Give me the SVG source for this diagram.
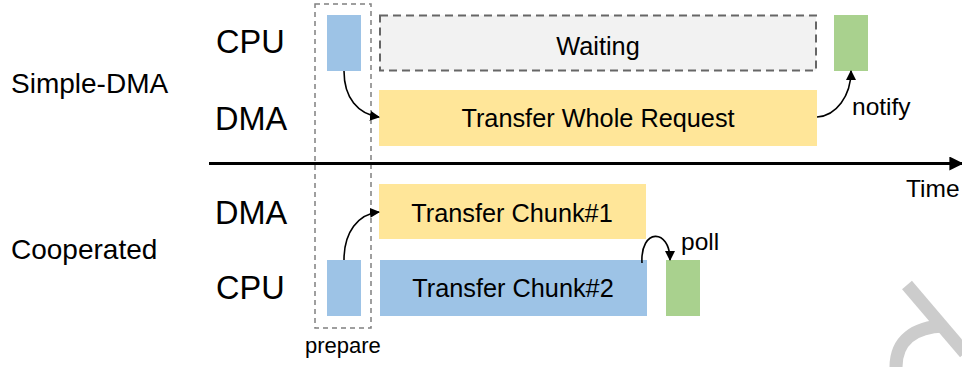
<svg xmlns="http://www.w3.org/2000/svg" width="962" height="367" viewBox="0 0 962 367">
<style>
text{font-family:"Liberation Sans",Arial,sans-serif;fill:#000}
.lbl{font-size:32.5px}
.grp{font-size:28px}
.box{font-size:25.3px}
.sm{font-size:24.5px}
.blue{fill:#9dc3e6}
.yel{fill:#ffe699}
.grn{fill:#a9d18e}
.conn{fill:none;stroke:#000;stroke-width:1.6}
</style>
<defs>
<marker id="ah" viewBox="0 0 10 10" refX="9" refY="5" markerWidth="10" markerHeight="10" markerUnits="userSpaceOnUse" orient="auto">
<path d="M0,0 L10,5 L0,10 z" fill="#000"/>
</marker>
<marker id="big" viewBox="0 0 10 10" refX="9" refY="5" markerWidth="14" markerHeight="14" markerUnits="userSpaceOnUse" orient="auto">
<path d="M0,0 L10,5 L0,10 z" fill="#000"/>
</marker>
</defs>
<rect width="962" height="367" fill="#fff"/>
<g id="watermark" fill="none" stroke="#cccccc" stroke-width="13">
<line x1="907" y1="285" x2="965" y2="353"/>
<path d="M896,367 C896,340 915,327 944,326"/>
</g>
<g id="labels">
<text class="grp" x="11" y="93">Simple-DMA</text>
<text class="grp" x="11" y="259">Cooperated</text>
<text class="lbl" x="216" y="53">CPU</text>
<text class="lbl" x="215" y="130">DMA</text>
<text class="lbl" x="215" y="224">DMA</text>
<text class="lbl" x="216" y="299">CPU</text>
</g>
<g id="prepare">
<rect x="315" y="4" width="56" height="324" fill="none" stroke="#808080" stroke-width="1.5" stroke-dasharray="5,4"/>
<text x="305" y="353" style="font-size:22px">prepare</text>
</g>
<g id="cpu-prep-1"><rect class="blue" x="327" y="15" width="34" height="56"/></g>
<g id="waiting">
<rect x="380" y="15.5" width="436" height="55" fill="#f2f2f2" stroke="#666" stroke-width="2" stroke-dasharray="8,5"/>
<text class="box" x="598" y="55" text-anchor="middle">Waiting</text>
</g>
<g id="cpu-done-1"><rect class="grn" x="834" y="15" width="34" height="56"/></g>
<g id="transfer-whole">
<rect class="yel" x="379" y="90" width="438" height="56"/>
<text class="box" x="598" y="127" text-anchor="middle">Transfer Whole Request</text>
</g>
<g id="chunk1">
<rect class="yel" x="379" y="184" width="267" height="55"/>
<text class="box" x="512" y="222" text-anchor="middle">Transfer Chunk#1</text>
</g>
<g id="cpu-prep-2"><rect class="blue" x="327" y="260" width="34" height="56"/></g>
<g id="chunk2">
<rect class="blue" x="380" y="260" width="267" height="56"/>
<text class="box" x="513" y="297" text-anchor="middle">Transfer Chunk#2</text>
</g>
<g id="cpu-done-2"><rect class="grn" x="666" y="260" width="34" height="56"/></g>
<g id="axis">
<line x1="209" y1="163.5" x2="962" y2="163.5" stroke="#000" stroke-width="3" marker-end="url(#big)"/>
<text class="sm" x="906" y="197">Time</text>
</g>
<g id="connectors">
<path class="conn" d="M344,71 C344,98 358,114 379,117" marker-end="url(#ah)"/>
<path class="conn" d="M817,117 C836,116 851,96 851,71" marker-end="url(#ah)"/>
<path class="conn" d="M344,260 C344,232 358,214 379,212" marker-end="url(#ah)"/>
<path class="conn" d="M642,263 C640,228 670,228 670,260" marker-end="url(#ah)"/>
<text class="sm" x="852" y="115">notify</text>
<text class="sm" x="681" y="250">poll</text>
</g>
</svg>
